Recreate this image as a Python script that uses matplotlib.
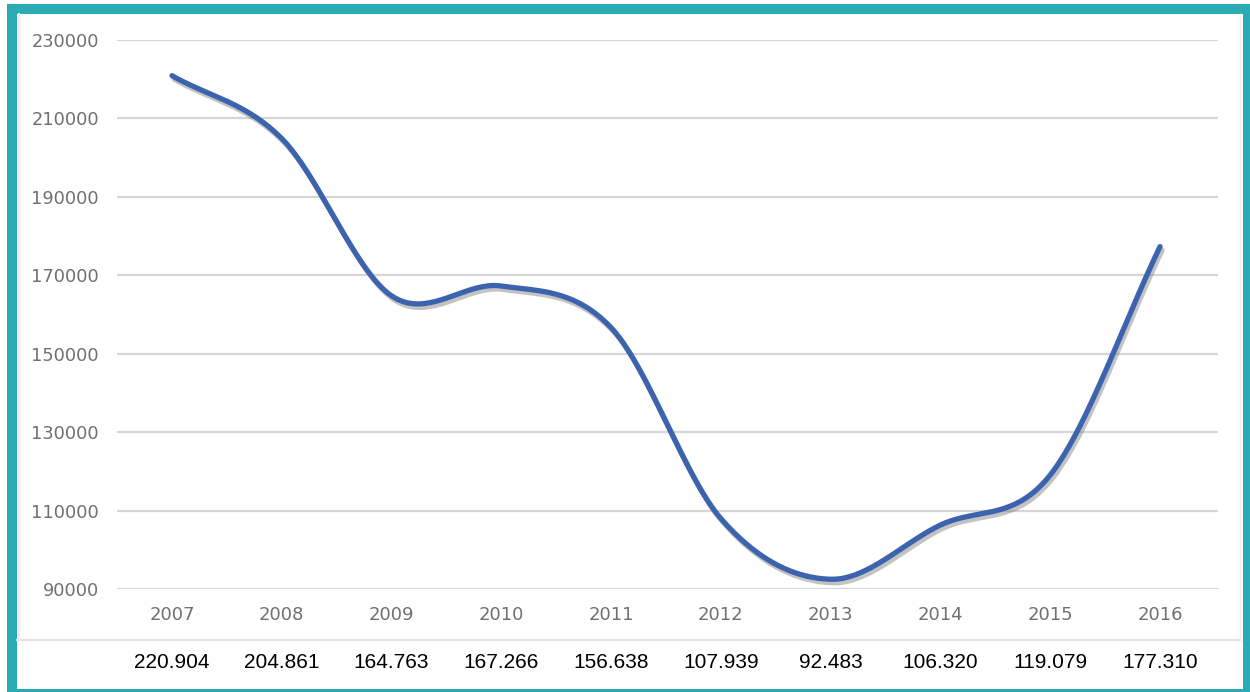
import numpy as np
import matplotlib.pyplot as plt
import matplotlib.patheffects as pe
from matplotlib.patches import Rectangle
from matplotlib.lines import Line2D

years = ["2007", "2008", "2009", "2010", "2011", "2012", "2013", "2014", "2015", "2016"]
values = [220904, 204861, 164763, 167266, 156638, 107939, 92483, 106320, 119079, 177310]
value_labels = ["220.904", "204.861", "164.763", "167.266", "156.638",
                "107.939", "92.483", "106.320", "119.079", "177.310"]
y_ticks = [90000, 110000, 130000, 150000, 170000, 190000, 210000, 230000]

W, H = 1250, 692


def catmull_rom(xs, ys, n=40):
    # smooth curve through the points (Catmull-Rom tangents)
    xs = np.asarray(xs, float)
    ys = np.asarray(ys, float)
    m = np.gradient(ys, xs)
    m[1:-1] = (ys[2:] - ys[:-2]) / (xs[2:] - xs[:-2])
    out_x, out_y = [], []
    for i in range(len(xs) - 1):
        h = xs[i + 1] - xs[i]
        t = np.linspace(0, 1, n, endpoint=False)
        h00 = 2 * t**3 - 3 * t**2 + 1
        h10 = t**3 - 2 * t**2 + t
        h01 = -2 * t**3 + 3 * t**2
        h11 = t**3 - t**2
        out_x.append(xs[i] + t * h)
        out_y.append(h00 * ys[i] + h10 * h * m[i] + h01 * ys[i + 1] + h11 * h * m[i + 1])
    out_x.append([xs[-1]])
    out_y.append([ys[-1]])
    return np.concatenate(out_x), np.concatenate(out_y)


fig = plt.figure(figsize=(W / 100, H / 100), dpi=100)
fig.patch.set_facecolor("white")

# teal frame and white panel
teal = "#2aabb3"
fig.patches.append(Rectangle((7 / W, 0), 1 - 7 / W, (H - 4) / H, transform=fig.transFigure,
                             facecolor=teal, edgecolor="none", zorder=-3))
fig.patches.append(Rectangle((17 / W, 3 / H), (1243 - 17) / W, (689 - 14) / H,
                             transform=fig.transFigure, facecolor="white", edgecolor="none", zorder=-2))
# inner chart box edges
fig.lines.append(Line2D([17 / W, 1240 / W], [(H - 640) / H] * 2, transform=fig.transFigure,
                        color="#e3e3e3", lw=1.5, zorder=-1))
fig.lines.append(Line2D([19 / W] * 2, [(H - 640) / H, (H - 14) / H], transform=fig.transFigure,
                        color="#ececec", lw=1.5, zorder=-1))
fig.lines.append(Line2D([1240 / W] * 2, [(H - 640) / H, (H - 14) / H], transform=fig.transFigure,
                        color="#f0f0f0", lw=1.0, zorder=-1))

ax = fig.add_axes([117 / W, (H - 589) / H, (1218 - 117) / W, (589 - 40) / H])
ax.set_zorder(2)
ax.set_facecolor("none")
x = np.arange(len(values))
ax.set_xlim(-0.501, 9.528)
ax.set_ylim(90000, 230000)

for yt in y_ticks:
    ax.axhline(yt, color="#d6d6d6", lw=1.6, zorder=1)

sx, sy = catmull_rom(x, values)
ax.plot(sx, sy, color="#3b63ae", lw=3.8, solid_capstyle="round", clip_on=False, zorder=3,
        path_effects=[pe.SimpleLineShadow(offset=(1.5, -2.5), shadow_color="#7a7a7a", alpha=0.45),
                      pe.Normal()])

ax.set_yticks(y_ticks)
ax.set_yticklabels([str(v) for v in y_ticks])
ax.tick_params(axis="y", length=0, pad=13, labelsize=12.8, labelcolor="#707070")
ax.set_xticks([])
for s in ax.spines.values():
    s.set_visible(False)

trans = ax.get_xaxis_transform()
for i, (yr, lab) in enumerate(zip(years, value_labels)):
    ax.text(i, -26 / 549, yr, transform=trans, ha="center", va="center",
            fontsize=13, color="#707070", family="DejaVu Sans")
    ax.text(i, -74 / 549, lab, transform=trans, ha="center", va="center",
            fontsize=15, color="black", family="Liberation Sans")

fig.savefig("out.png", dpi=100)
